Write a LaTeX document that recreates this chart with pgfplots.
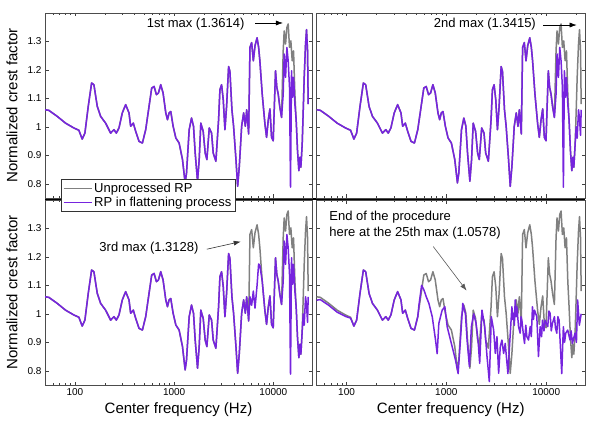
\documentclass[border=0pt]{standalone}
\usepackage{fontspec}
\setmainfont{Liberation Sans}
\usepackage{pgfplots}
\usepackage{pgfplotstable}
\pgfplotsset{compat=1.18}
\usetikzlibrary{arrows.meta}

\definecolor{rpgray}{RGB}{128,128,128}
\definecolor{rppurple}{RGB}{118,36,222}
\newcommand{\annfont}{\fontsize{13}{15}\selectfont}
\newcommand{\labfont}{\fontsize{15}{18}\selectfont}

% unprocessed RP (same in all four panels)
\pgfplotstableread{
f v
50 1.060
54.6 1.058
66.3 1.037
80.5 1.013
97.7 0.996
109.7 0.988
118.5 0.957
126.2 0.978
136.4 1.072
147.4 1.154
155.5 1.148
168.1 1.072
181.6 1.037
204 1.013
229 0.978
247.6 0.990
261.6 0.978
278.2 0.996
300.5 1.049
324.8 1.078
351 1.049
364.7 1.002
388 1.013
410 0.984
443 0.949
479 0.943
517 0.990
559 1.072
594 1.136
628 1.142
663 1.113
695 1.119
733 1.148
774 1.119
824 1.049
857 1.025
890 1.049
925 1.054
977 1.002
1040 0.961
1123 0.943
1214 0.885
1291 0.803
1333 0.838
1418 0.990
1497 1.031
1568 1.002
1630 0.908
1721 0.809
1789 0.885
1858 1.013
1963 0.984
2056 0.908
2138 0.885
2259 0.996
2384 0.978
2477 0.908
2635 0.879
2805 1.025
2893 1.130
3008 1.148
3126 1.095
3250 0.990
3378 1.072
3539 1.212
3650 1.195
3823 1.060
3973 1.002
4198 0.885
4364 0.791
4537 0.861
4789 1.002
5016 1.049
5216 1.002
5383 1.060
5636 0.975
5808 1.279
6040 1.296
6281 1.232
6531 1.285
6850 1.3128
7100 1.280
7310 1.232
7720 1.115
8220 1.010
8540 0.963
8870 1.022
9230 1.063
9590 0.963
9960 0.951
10510 1.197
10830 1.139
11190 1.115
11630 1.068
12090 1.033
12560 1.267
12850 1.337
13270 1.291
13680 1.349
14100 1.3614
14540 1.279
15000 1.302
15480 1.232
15970 1.267
16470 1.115
16980 1.022
17510 0.916
18070 0.846
18490 0.893
18930 0.858
19520 0.940
19990 1.057
20450 1.174
21090 1.291
21580 1.3415
22100 1.267
22430 1.080
}\graydata

% flattened at the 1st max
\pgfplotstableread{
f v
50 1.060
54.6 1.058
66.3 1.037
80.5 1.013
97.7 0.996
109.7 0.988
118.5 0.957
126.2 0.978
136.4 1.072
147.4 1.154
155.5 1.148
168.1 1.072
181.6 1.037
204 1.013
229 0.978
247.6 0.990
261.6 0.978
278.2 0.996
300.5 1.049
324.8 1.078
351 1.049
364.7 1.002
388 1.013
410 0.984
443 0.949
479 0.943
517 0.990
559 1.072
594 1.136
628 1.142
663 1.113
695 1.119
733 1.148
774 1.119
824 1.049
857 1.025
890 1.049
925 1.054
977 1.002
1040 0.961
1123 0.943
1214 0.885
1291 0.803
1333 0.838
1418 0.990
1497 1.031
1568 1.002
1630 0.908
1721 0.809
1789 0.885
1858 1.013
1963 0.984
2056 0.908
2138 0.885
2259 0.996
2384 0.978
2477 0.908
2635 0.879
2805 1.025
2893 1.130
3008 1.148
3126 1.095
3250 0.990
3378 1.072
3539 1.212
3650 1.195
3823 1.060
3973 1.002
4198 0.885
4364 0.791
4537 0.861
4789 1.002
5016 1.049
5216 1.002
5383 1.060
5636 0.975
5808 1.279
6040 1.296
6281 1.232
6531 1.285
6850 1.3128
7100 1.280
7310 1.232
7720 1.115
8220 1.010
8540 0.963
8870 1.022
9230 1.063
9590 0.963
9960 0.951
10510 1.197
10830 1.139
11190 1.115
11630 1.068
12090 1.033
12560 1.115
12850 1.256
13270 1.174
13680 1.279
14100 1.232
14540 1.139
14880 0.788
15240 1.197
15600 1.104
15970 1.174
16470 1.080
16980 1.022
17510 0.916
18070 0.846
18490 0.893
18930 0.858
19520 0.940
19990 1.057
20450 1.174
21090 1.291
21580 1.3415
22100 1.267
22430 1.080
}\purpleA

% flattened at the 1st and 2nd max
\pgfplotstableread{
f v
50 1.060
54.6 1.058
66.3 1.037
80.5 1.013
97.7 0.996
109.7 0.988
118.5 0.957
126.2 0.978
136.4 1.072
147.4 1.154
155.5 1.148
168.1 1.072
181.6 1.037
204 1.013
229 0.978
247.6 0.990
261.6 0.978
278.2 0.996
300.5 1.049
324.8 1.078
351 1.049
364.7 1.002
388 1.013
410 0.984
443 0.949
479 0.943
517 0.990
559 1.072
594 1.136
628 1.142
663 1.113
695 1.119
733 1.148
774 1.119
824 1.049
857 1.025
890 1.049
925 1.054
977 1.002
1040 0.961
1123 0.943
1214 0.885
1291 0.803
1333 0.838
1418 0.990
1497 1.031
1568 1.002
1630 0.908
1721 0.809
1789 0.885
1858 1.013
1963 0.984
2056 0.908
2138 0.885
2259 0.996
2384 0.978
2477 0.908
2635 0.879
2805 1.025
2893 1.130
3008 1.148
3126 1.095
3250 0.990
3378 1.072
3539 1.212
3650 1.195
3823 1.060
3973 1.002
4198 0.885
4364 0.791
4537 0.861
4789 1.002
5016 1.049
5216 1.002
5383 1.060
5636 0.975
5808 1.279
6040 1.296
6281 1.232
6531 1.285
6850 1.3128
7100 1.280
7310 1.232
7720 1.115
8220 1.010
8540 0.963
8870 1.022
9230 1.063
9590 0.963
9960 0.951
10510 1.197
10830 1.139
11190 1.115
11630 1.068
12090 1.033
12560 1.115
12850 1.256
13270 1.174
13680 1.279
14100 1.232
14540 1.139
14880 0.788
15240 1.197
15600 1.104
15970 1.174
16470 1.080
16980 1.022
17510 0.916
18070 0.846
18490 0.893
18930 0.858
19520 0.940
19990 1.000
20450 0.960
21090 1.060
21580 1.030
22100 0.970
22430 1.060
}\purpleB

% flattened at the 1st, 2nd and 3rd max
\pgfplotstableread{
f v
50 1.060
54.6 1.058
66.3 1.037
80.5 1.013
97.7 0.996
109.7 0.988
118.5 0.957
126.2 0.978
136.4 1.072
147.4 1.154
155.5 1.148
168.1 1.072
181.6 1.037
204 1.013
229 0.978
247.6 0.990
261.6 0.978
278.2 0.996
300.5 1.049
324.8 1.078
351 1.049
364.7 1.002
388 1.013
410 0.984
443 0.949
479 0.943
517 0.990
559 1.072
594 1.136
628 1.142
663 1.113
695 1.119
733 1.148
774 1.119
824 1.049
857 1.025
890 1.049
925 1.054
977 1.002
1040 0.961
1123 0.943
1214 0.885
1291 0.803
1333 0.838
1418 0.990
1497 1.031
1568 1.002
1630 0.908
1721 0.809
1789 0.885
1858 1.013
1963 0.984
2056 0.908
2138 0.885
2259 0.996
2384 0.978
2477 0.908
2635 0.879
2805 1.025
2893 1.130
3008 1.148
3126 1.095
3250 0.990
3378 1.072
3539 1.212
3650 1.195
3823 1.060
3973 1.002
4198 0.885
4364 0.791
4537 0.861
4789 1.002
5016 1.049
5216 1.002
5383 1.060
5636 0.975
5808 1.060
6040 1.030
6281 1.080
6531 1.020
6850 1.100
7100 1.175
7310 1.170
7720 1.115
8220 1.010
8540 0.963
8870 1.022
9230 1.063
9590 0.963
9960 0.951
10510 1.197
10830 1.139
11190 1.115
11630 1.068
12090 1.033
12560 1.115
12850 1.256
13270 1.174
13680 1.279
14100 1.232
14540 1.139
14880 0.788
15240 1.197
15600 1.104
15970 1.174
16470 1.080
16980 1.022
17510 0.916
18070 0.846
18490 0.893
18930 0.858
19520 0.940
19990 1.000
20450 0.960
21090 1.060
21580 1.030
22100 0.970
22430 1.060
}\purpleC

% end of the procedure (25th max)
\pgfplotstableread{
f v
50 1.048
54.6 1.050
66.3 1.030
80.5 1.006
97.7 0.991
109.7 0.985
118.5 0.957
126.2 0.978
136.4 1.072
147.4 1.154
155.5 1.148
168.1 1.072
181.6 1.037
204 1.013
229 0.978
247.6 0.990
261.6 0.978
278.2 0.996
300.5 1.049
324.8 1.078
351 1.049
364.7 1.002
388 1.013
410 0.984
443 0.949
479 0.943
517 0.990
531 1.030
565 1.100
596 1.084
629 1.060
668 1.037
722 0.990
779 0.908
809 0.860
841 0.967
908 1.013
966 1.025
1019 0.955
1143 0.885
1234 0.838
1312 0.790
1384 0.908
1460 1.037
1552 1.000
1613 0.908
1702 0.815
1782 0.955
1880 1.000
1983 0.967
2076 0.908
2157 0.826
2275 1.013
2421 0.955
2555 0.850
2694 0.762
2820 0.990
2977 0.943
3093 0.861
3213 0.920
3340 0.791
3470 0.885
3605 0.908
3745 0.861
3890 0.896
4137 0.790
4367 0.930
4537 1.025
4620 0.980
4714 1.002
4800 0.960
4897 1.049
5000 0.990
5088 1.025
5286 0.955
5492 0.932
5600 0.990
5706 0.978
5900 0.930
6070 0.896
6250 0.960
6403 0.920
6652 0.908
6911 0.955
7100 0.920
7290 1.025
7450 0.980
7640 1.013
8060 0.990
8370 0.850
8700 0.955
9000 0.920
9190 0.978
9500 0.940
9760 0.978
10370 0.955
10650 1.010
10950 1.002
11250 0.940
11560 0.967
12100 0.990
12400 0.950
12770 0.932
13100 0.990
13470 0.978
14320 0.790
14870 0.955
15300 0.900
15700 0.932
16440 0.943
17340 0.908
17800 0.940
18290 0.896
19450 0.932
20100 0.900
20660 1.049
21500 0.960
22430 1.000
}\purpleD

\pgfplotsset{
  gray line/.style={rpgray, line width=1.5pt, line join=round},
  purple line/.style={rppurple, line width=1.5pt, line join=round},
  crest/.style={
    scale only axis, height=185pt,
    xmin=50, xmax=24500, ymin=0.75, ymax=1.4,
    xtick={100,1000,10000},
    minor xtick={60,70,80,90,200,300,400,500,600,700,800,900,2000,3000,4000,5000,6000,7000,8000,9000,20000},
    ytick={0.8,0.9,1,1.1,1.2,1.3},
    tick pos=both, ticklabel pos=left,
    major tick length=3.5pt, minor tick length=2pt,
    tick style={black!75, line width=0.5pt},
    axis line style={black!70, line width=0.8pt},
    tick label style={font=\fontsize{10}{12}\selectfont},
    every axis y label/.style={at={(axis description cs:-0.124,0.5)},rotate=90,anchor=center,font=\labfont},
    every axis x label/.style={at={(axis description cs:0.5,-0.135)},anchor=center,font=\labfont}}}

\begin{document}
\begin{tikzpicture}
\path[use as bounding box] (0,0) rectangle (601pt,425pt);

% bottom left: 3rd max
\begin{semilogxaxis}[crest, at={(45pt,40pt)}, anchor=south west, width=267pt,
  xticklabels={100,1000,10000}, yticklabels={0.8,0.9,1,1.1,1.2,1.3},
  xlabel={Center frequency (Hz)}, ylabel={Normalized crest factor}]
  \addplot[gray line] table[x=f,y=v] {\graydata};
  \addplot[purple line] table[x=f,y=v] {\purpleC};
  \node[anchor=east, font=\annfont] at (rel axis cs:0.588,0.741) {3rd max (1.3128)};
  \draw[black!80, line width=0.6pt, -{Latex[length=7pt,width=5pt]}] (rel axis cs:0.606,0.734) -- (rel axis cs:0.733,0.775);
\end{semilogxaxis}

% bottom right: end of the procedure
\begin{semilogxaxis}[crest, at={(316.5pt,40pt)}, anchor=south west, width=268.5pt,
  xticklabels={100,1000,10000}, yticklabels={},
  xlabel={Center frequency (Hz)}]
  \addplot[gray line] table[x=f,y=v] {\graydata};
  \addplot[purple line] table[x=f,y=v] {\purpleD};
  \node[anchor=west, font=\annfont] at (rel axis cs:0.035,0.910) {End of the procedure};
  \node[anchor=west, font=\annfont] at (rel axis cs:0.035,0.820) {here at the 25th max (1.0578)};
  \draw[black!65, line width=0.6pt, -{Latex[length=7pt,width=5pt]}] (rel axis cs:0.435,0.748) -- (rel axis cs:0.559,0.510);
\end{semilogxaxis}

\draw[black, line width=1.8pt] (45pt,226pt) -- (585pt,226pt);

% top left: 1st max
\begin{semilogxaxis}[crest, at={(45pt,227pt)}, anchor=south west, width=267pt,
  xticklabels={}, yticklabels={0.8,0.9,1,1.1,1.2,1.3},
  ylabel={Normalized crest factor},
  legend style={at={(0.059,0.1027)}, anchor=north west, draw=black!80, line width=0.9pt,
    fill=white, font=\annfont, inner xsep=2pt, inner ysep=1.5pt, row sep=-1pt,
    cells={anchor=west}},
  legend image code/.code={\draw[#1, line width=1pt] (0pt,0pt) -- (28pt,0pt);}]
  \addplot[gray line] table[x=f,y=v] {\graydata};
  \addlegendentry{Unprocessed RP}
  \addplot[purple line] table[x=f,y=v] {\purpleA};
  \addlegendentry{RP in flattening process}
  \node[anchor=east, font=\annfont] at (rel axis cs:0.760,0.941) {1st max (1.3614)};
  \draw[black, line width=0.6pt, -{Latex[length=7pt,width=5pt]}] (rel axis cs:0.787,0.946) -- (rel axis cs:0.891,0.946);
\end{semilogxaxis}

% top right: 2nd max
\begin{semilogxaxis}[crest, at={(316.5pt,227pt)}, anchor=south west, width=268.5pt,
  xticklabels={}, yticklabels={}]
  \addplot[gray line] table[x=f,y=v] {\graydata};
  \addplot[purple line] table[x=f,y=v] {\purpleB};
  \node[anchor=east, font=\annfont] at (rel axis cs:0.830,0.941) {2nd max (1.3415)};
  \draw[black, line width=0.6pt, -{Latex[length=7pt,width=5pt]}] (rel axis cs:0.845,0.935) -- (rel axis cs:0.969,0.935);
\end{semilogxaxis}
\end{tikzpicture}
\end{document}
